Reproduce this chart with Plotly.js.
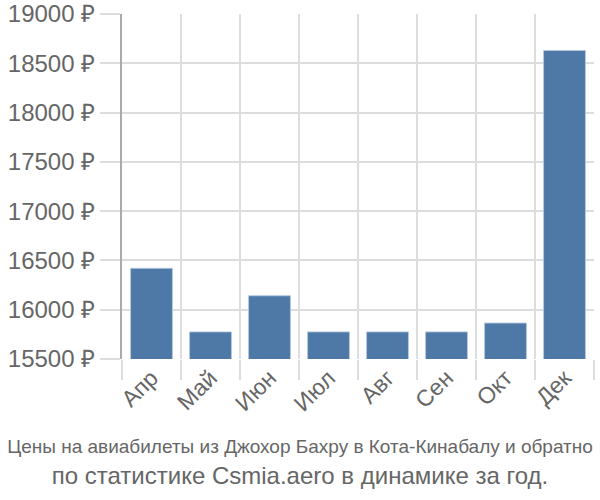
<!DOCTYPE html>
<html><head><meta charset="utf-8">
<script src="https://cdn.plot.ly/plotly-3.0.1.min.js"></script>
<style>html,body{margin:0;padding:0;background:#fff}#chart{width:600px;height:500px}</style>
</head><body><div id="chart"></div>
<script>
const months = ["Апр","Май","Июн","Июл","Авг","Сен","Окт","Дек"];
const prices = [16420, 15775, 16142, 15775, 15775, 15775, 15865, 18630];
const yTicks = [15500,16000,16500,17000,17500,18000,18500,19000];
const yTickLabels = yTicks.map(v => v + " ₽");
const titleLine1 = "Цены на авиабилеты из Джохор Бахру в Кота-Кинабалу и обратно";
const titleLine2 = "по статистике Csmia.aero в динамике за год.";

const trace = {
  type: "bar",
  x: months,
  y: prices,
  marker: {color: "#4e79a7", line: {color: "rgba(180,200,225,0.9)", width: 1}},
  hoverinfo: "x+y"
};
const layout = {
  width: 600, height: 500,
  margin: {l: 122, r: 6, t: 14, b: 141},
  paper_bgcolor: "#fff", plot_bgcolor: "#fff",
  bargap: 0.29,
  font: {family: "Liberation Sans, Arial, sans-serif", color: "#666"},
  xaxis: {
    type: "category",
    tickson: "boundaries",
    ticks: "outside", ticklen: 20, tickcolor: "#ddd", tickwidth: 2,
    showgrid: true, gridcolor: "#ddd", gridwidth: 2,
    tickangle: -45,
    tickfont: {size: 23, color: "#666"},
    showline: false, zeroline: false
  },
  yaxis: {
    range: [15500, 19000],
    tickvals: yTicks, ticktext: yTickLabels,
    ticks: "outside", ticklen: 20, tickcolor: "#ddd", tickwidth: 2,
    showgrid: true, gridcolor: "#ddd", gridwidth: 2,
    tickfont: {size: 24, color: "#666"},
    showline: true, linecolor: "#aaa", linewidth: 2,
    zeroline: false
  },
  title: {
    text: '<span style="font-size:19px">' + titleLine1 + '</span><br>' + titleLine2,
    font: {size: 24, color: "#666", family: "Liberation Sans, Arial, sans-serif"},
    x: 0.5, xanchor: "center",
    y: 0.094, yanchor: "middle"
  },
  showlegend: false
};
Plotly.newPlot("chart", [trace], layout, {displayModeBar: false, staticPlot: true});
</script>
</body></html>
